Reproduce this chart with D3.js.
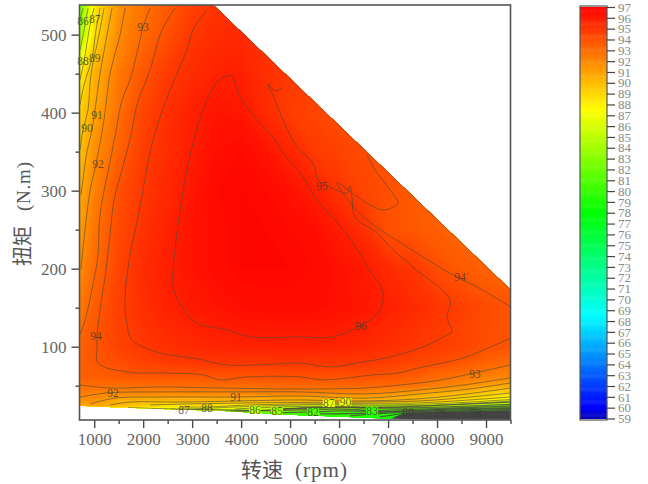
<!DOCTYPE html>
<html lang="zh">
<head>
<meta charset="utf-8">
<title>效率 MAP</title>
<script src="https://cdn.jsdelivr.net/npm/d3@7/dist/d3.min.js"></script>
<style>
  html, body { margin: 0; padding: 0; background: #fff; }
  svg { display: block; }
</style>
</head>
<body>
<svg id="map" width="648" height="484"></svg>
<script>
// Motor efficiency map: speed (rpm) against torque (N.m), efficiency in percent.
const speeds = [700, 1000, 1500, 2000, 2500, 3000, 3500, 4000, 4500, 5000, 5500, 6000, 6500, 7000, 7500, 8000, 8500, 9000, 9500];
const torques = [5, 10, 15, 20, 25, 30, 35, 40, 50, 60, 80, 100, 150, 200, 250, 300, 350, 400, 450, 500, 540];

// One row per torque, one column per speed.
const efficiency = [
  [77, 77, 78, 79, 80, 81, 80, 79, 79, 79, 79, 78.8, 78.7, 78.6, 76, 76, 76, 76, 76],
  [78, 78, 79, 80, 81, 82, 81, 80, 80, 80, 80, 79.5, 79.2, 79, 77, 76, 76, 76, 76],
  [80, 80, 81, 82, 83, 84, 83, 82, 81.5, 81, 80.5, 80, 79.8, 79.5, 78, 77, 77, 77, 77],
  [88, 88.5, 88, 87.5, 87, 87, 87, 86, 85.3, 84, 83.3, 83, 82.5, 82, 81.5, 81, 80.5, 80, 79.5],
  [90.8, 91, 90.4, 89.5, 88.9, 88.8, 88.6, 88.4, 88, 87.5, 86.5, 86, 86, 85.6, 85.6, 85.6, 85, 84, 83],
  [91.5, 91.6, 90.5, 90.2, 90, 90.1, 90.1, 90.2, 90.4, 90.5, 90.5, 90.3, 90.4, 90.4, 90.3, 89.6, 88.6, 87.8, 86.5],
  [92, 91.9, 91.2, 91, 91, 90.9, 91, 91, 91, 91.1, 91, 90.8, 91, 90.8, 90.4, 89.9, 89.3, 88.9, 87.9],
  [92.4, 92.2, 92, 92, 91.9, 92, 92, 92, 92.1, 92.2, 92.1, 92, 92, 91.6, 91.1, 90.4, 90.1, 89.5, 88.9],
  [92.9, 93, 92.9, 93, 93, 93, 93.1, 93, 93.1, 93.2, 93.2, 93.2, 93.2, 93.1, 92.9, 92.3, 91.8, 91.1, 90.6],
  [93.5, 93.5, 93.7, 93.8, 93.8, 93.7, 93.8, 93.9, 93.9, 94, 94, 93.9, 94, 93.8, 93.5, 93, 92.6, 92.2, 92],
  [93.4, 93.9, 94.2, 94.6, 94.9, 95, 95.05, 95, 95, 95.05, 95, 95, 94.95, 94.8, 94.5, 94.2, 93.9, 93.4, 93],
  [93.4, 93.9, 94.6, 95, 95.3, 95.5, 95.7, 95.8, 95.8, 95.8, 95.8, 95.75, 95.6, 95.3, 95.05, 94.8, 94.5, 94.2, 93.9],
  [92.5, 93.6, 94.7, 95.3, 95.8, 96.1, 96.3, 96.5, 96.6, 96.6, 96.6, 96.4, 96.2, 95.85, 95.5, 95.1, 94.7, 94.3, 94],
  [91.8, 93.1, 94.5, 95.4, 95.9, 96.3, 96.6, 96.8, 96.8, 96.8, 96.7, 96.4, 96.1, 95.5, 95.05, 94.2, 93.7, 93.4, 93],
  [91.2, 92.7, 94.3, 95.2, 95.8, 96.3, 96.6, 96.8, 96.8, 96.7, 96.5, 96, 95.3, 94, 93.8, 93.5, 93.2, 93, 92.8],
  [90.6, 92.2, 94.1, 95, 95.6, 96.2, 96.7, 96.8, 96.7, 96.4, 95.9, 95.1, 94.5, 94.1, 93.7, 93.4, 93.2, 93, 92.8],
  [89.8, 91.7, 93.4, 94.8, 95.4, 96, 96.5, 96.7, 96.3, 95.7, 94.9, 94.6, 94.3, 94, 93.7, 93.4, 93.2, 93, 92.8],
  [89.2, 90.9, 92.9, 94.5, 95.3, 95.9, 96.3, 96.2, 95.5, 94.8, 94.5, 94.2, 94, 93.8, 93.6, 93.4, 93.2, 93, 92.8],
  [88, 90.4, 92.5, 93.9, 94.9, 95.4, 95.8, 95.9, 95.3, 94.9, 94.7, 94.5, 94.3, 94, 93.8, 93.6, 93.4, 93.2, 93],
  [84, 88.8, 91.9, 93.1, 94.1, 95, 95.4, 95.5, 95.2, 95, 94.8, 94.6, 94.4, 94.2, 94, 93.8, 93.6, 93.4, 93.2],
  [82, 88.2, 91.5, 92.7, 93.7, 94.6, 95.1, 95.3, 95.2, 95, 94.8, 94.6, 94.4, 94.2, 94, 93.8, 93.6, 93.4, 93.2]
];

// Operating envelope of the machine, [speed, torque].
const envelope = [[700, 24.4], [1690, 21.8], [2551, 19.9], [3569, 18], [4992, 12.8], [5815, 10.9], [7040, 7.7], [8060, 6.4], [9500, 6.4], [9500, 173], [3430, 538], [700, 538]];
const fullLoadEdge = [[3430, 538], [9500, 173]];

// Traced iso-efficiency lines, [level, [[speed, torque], ...]].
const isolines = [
  [96, [[3834,448],[3977,420],[4324,390.7],[4651,368.9],[4855,348.4],[5263,317.6],[5549,288],[5917,262.5],[6284,233],[6590,201],[6897,169],[6795,143],[6366,125],[5876,112.5],[5202,112.5],[4181,112.5],[3712,121.4],[3058,131.7],[2711,160],[2609,179],[2650,224],[2752,275],[2895,326.6],[3058,371.4],[3262,410],[3426,431.7],[3610,444.5],[3834,448]]],
  [95, [[3303,531.7],[3017,506],[2895,480.4],[2548,429],[2201,365],[1895,266],[1731,217.6],[1629,160],[1670,128],[1772,108.6],[2344,92],[3017,85.5],[3712,76.6],[4385,76.6],[5202,79],[5815,74],[6366,79],[7040,86.8],[7713,99.6],[8203,115],[8305,119],[8203,138],[8265,160],[7509,202],[7040,228],[6774,246],[6325,266],[6264,292],[6223,306],[6162,297],[5815,305],[5570,314],[5467,335.5],[5141,356],[4855,390.7],[4692,416],[4549,437],[4692,428],[4835,431.7]]],
  [94, [[2650,534],[2385,506],[2140,454.8],[1874,410],[1752,371.4],[1568,326.6],[1405,288],[1323,243],[1241,198],[1119,147],[1057,113.7],[1057,99.6],[1078,79],[1670,67.6],[2344,66.3],[3222,63.8],[3569,57.4],[4120,61.2],[5202,61.2],[5672,57.4],[6693,63.8],[7203,66.3],[7713,74],[8530,85.5],[9500,111]]],
  [94, [[6570,345.8],[6733,326.6],[7040,301],[7203,284],[7101,279],[6897,275],[6631,281.7],[6325,294.5],[5958,310],[6264,281.7],[6570,262.5],[7387,227.9],[8408,189],[8816,176.6],[9500,151]]],
  [93, [[2140,534],[1997,510],[1935,493],[1731,442],[1568,416],[1466,384],[1364,349.6],[1119,269],[1078,217.6],[955,172.7],[812,134],[710,115]]],
  [93, [[710,50.9],[1323,47],[2344,48.4],[3569,47],[5202,45.8],[6529,47],[7244,50.9],[7958,56],[8673,65],[9500,76.6]]],
  [92, [[1629,534],[1527,499.6],[1323,449.6],[1200,390.7],[1037,334],[915,299.6],[812,249.6],[731,199.6]]],
  [92, [[710,35.5],[1262,40.7],[2344,42],[3712,42],[5202,42],[6529,39.4],[7652,44.5],[8673,52],[9500,60]]],
  [91, [[1364,534],[1262,499.6],[1119,449.6],[1017,403.5],[955,378],[853,349.6],[731,294.5]]],
  [91, [[915,26.6],[1425,34],[2344,35.5],[3895,35.5],[5202,36.8],[6529,34],[7652,39.4],[8673,45.8],[9500,53.5]]],
  [90, [[1200,534],[1098,499.6],[935,449.6],[873,403.5],[772,378],[711,352]]],
  [90, [[1323,25.3],[1731,29],[2752,29],[3977,30.4],[5202,31.7],[6060,30.4],[7244,31.7],[8265,36.8],[9500,47]]],
  [89, [[1119,534],[1037,506],[955,470],[792,435.5],[711,410]]],
  [89, [[2140,25.3],[2956,26.6],[4181,27.9],[5202,28.5],[6427,29],[7652,30.4],[8673,35.5],[9500,40.7]]],
  [88, [[996,534],[915,512],[792,466],[711,442]]],
  [88, [[2752,22.7],[3303,22.7],[4181,25.3],[5202,26.6],[6427,27.2],[7652,27.9],[8673,31.7],[9500,35.5]]],
  [87, [[874,534],[833,519],[711,480]]],
  [87, [[2551,20],[2834,20],[4181,23.4],[5202,25.3],[5937,26],[6835,25.3],[7856,26.6],[8673,29],[9500,32.3]]],
  [86, [[772,534],[711,519]]],
  [86, [[3875,20],[4283,21.4],[5202,23.4],[6835,24],[7856,24.6],[9500,30.4]]],
  [85, [[4732,19.7],[5815,22.7],[6835,22],[8673,26.6],[9500,29]]],
  [84, [[1690,21.4],[2551,20],[3569,18.9],[4385,18.3],[5202,20.8],[6019,22],[7244,21.4],[8469,23.4],[9500,26]]],
  [83, [[3773,17],[5202,18.9],[6019,20],[6672,18.3],[7652,20],[8673,22],[9500,24]]],
  [82, [[4590,15],[5467,16.3],[6019,17.6],[6835,17],[7856,18.9],[8673,20.8],[9500,22]]],
  [81, [[5610,13.8],[6631,15],[7448,17.6],[8673,19.7],[9500,20.8]]],
  [80, [[6223,11.2],[7407,16.3],[8673,18.3],[9500,19.7]]],
  [79, [[6835,9.9],[7550,15.7],[8673,17],[9500,18.3]]]
];

// Contour labels: text, speed, torque and the efficiency tint behind it, if any.
const contourLabels = [
  ["86", 770, 517.6, null], ["87", 1010, 520, null], ["88", 770, 466, null], ["89", 1010, 470, null],
  ["93", 1997, 510, null], ["91", 1057, 397, null], ["90", 853, 380, null], ["92", 1078, 334, null],
  ["94", 1037, 113.7, null], ["95", 5651, 306, null], ["96", 6447, 126.6, null], ["94", 8469, 189, null],
  ["93", 8775, 65, null], ["92", 1384, 40.7, null], ["91", 3895, 35.5, null], ["87", 5790, 27.8, 87],
  ["90", 6130, 29, 87], ["87", 2834, 18.9, null], ["88", 3303, 21.4, null], ["86", 4283, 18.9, 85],
  ["85", 4732, 17.6, 84], ["82", 5467, 16.3, 81], ["83", 6672, 17.6, 80], ["80", 7407, 16.3, null],
  ["79", 8060, 15, null], ["78", 8795, 15, null]
];

const speedTicks = [1000, 2000, 3000, 4000, 5000, 6000, 7000, 8000, 9000];
const speedMinorTicks = [1500, 2500, 3500, 4500, 5500, 6500, 7500, 8500, 9500];
const torqueTicks = [100, 200, 300, 400, 500];
const torqueMinorTicks = [50, 150, 250, 350, 450];
const colorbarTicks = d3.range(59, 98);

// Rainbow ramp used by both the map and the colour bar.
const colorStops = [59, 60, 68.5, 78, 87.5, 97];
const colorValues = ["#0000b4", "#0000ff", "#00ffff", "#00ff00", "#ffff00", "#ff0000"];
const belowRangeColor = "#434343";
const belowRangeLimit = 78.5;

const svg = d3.select("#map");
const serif = "'Liberation Serif', 'DejaVu Serif', serif";
const cjk = "'Noto Sans CJK SC', sans-serif";

const x = d3.scaleLinear().domain([700, 9500]).range([79.5, 510.5]);
const y = d3.scaleLinear().domain([6, 538]).range([420, 5]);
const color = d3.scaleLinear().domain(colorStops).range(colorValues).clamp(true);

// Grid indices returned by d3.contours sit half a cell from the sample centres.
const gridX = d3.scaleLinear().domain(speeds.map((_, i) => i + 0.5)).range(speeds);
const gridY = d3.scaleLinear().domain(torques.map((_, i) => i + 0.5)).range(torques);
const toScreen = d3.geoTransform({
  point(px, py) { this.stream.point(x(gridX(px)), y(gridY(py))); }
});
const gridPath = d3.geoPath(toScreen);

svg.append("clipPath").attr("id", "envelope-clip")
  .append("path").attr("d", d3.line().x(d => x(d[0])).y(d => y(d[1])).curve(d3.curveLinearClosed)(envelope));

const plot = svg.append("g").attr("clip-path", "url(#envelope-clip)");

// Filled field: closely spaced efficiency bands painted from low to high.
plot.append("rect")
  .attr("x", x.range()[0]).attr("y", y.range()[1])
  .attr("width", x.range()[1] - x.range()[0]).attr("height", y.range()[0] - y.range()[1])
  .attr("fill", belowRangeColor);

const bands = d3.contours()
  .size([speeds.length, torques.length])
  .thresholds(d3.range(belowRangeLimit, 97.01, 0.1))(efficiency.flat());

plot.selectAll("path.band").data(bands).join("path")
  .attr("class", "band")
  .attr("d", gridPath)
  .attr("fill", d => color(d.value));

// Iso-efficiency lines; the low levels bunch up along the bottom edge.
const lineGen = d3.line().x(d => x(d[0])).y(d => y(d[1])).curve(d3.curveCatmullRom.alpha(0.5));
plot.selectAll("path.iso").data(isolines).join("path")
  .attr("class", "iso")
  .attr("d", d => lineGen(d[1]))
  .attr("fill", "none")
  .attr("stroke", "#4a4a3c")
  .attr("stroke-opacity", d => d[0] <= 85 ? 0.8 : 0.6)
  .attr("stroke-width", d => d[0] <= 85 ? 1.3 : 1);

svg.append("path")
  .attr("d", d3.line().x(d => x(d[0])).y(d => y(d[1]))(fullLoadEdge))
  .attr("fill", "none").attr("stroke", "#a8481a").attr("stroke-width", 1).attr("stroke-opacity", 0.7);

// Contour labels, some with a tinted patch behind them.
const labelGroup = svg.append("g");
labelGroup.selectAll("rect").data(contourLabels.filter(d => d[3] !== null)).join("rect")
  .attr("x", d => x(d[1]) - 6).attr("y", d => y(d[2]) - 4)
  .attr("width", 12).attr("height", 8)
  .attr("fill", d => color(d[3]));
labelGroup.selectAll("text").data(contourLabels).join("text")
  .attr("x", d => x(d[1])).attr("y", d => y(d[2]))
  .attr("dy", "0.35em")
  .attr("text-anchor", "middle")
  .attr("font-family", serif).attr("font-size", 11.5)
  .attr("fill", "#3a3a30").attr("fill-opacity", 0.8)
  .text(d => d[0]);

// Axes with labelled major ticks and unlabelled minor ticks.
function styleAxis(g, size) {
  g.select(".domain").remove();
  g.selectAll("line").attr("stroke", "#4a4a4a").attr("stroke-width", 1.4);
  g.selectAll("text").attr("font-family", serif).attr("font-size", size).attr("fill", "#666");
}
const bottom = svg.append("g").attr("transform", "translate(0,420)");
bottom.append("g").call(d3.axisBottom(x).tickValues(speedTicks).tickSize(8).tickPadding(5).tickFormat(d3.format("d"))).call(styleAxis, 17);
bottom.append("g").call(d3.axisBottom(x).tickValues(speedMinorTicks).tickSize(4).tickFormat("")).call(styleAxis, 17);

const left = svg.append("g").attr("transform", "translate(79.5,0)");
left.append("g").call(d3.axisLeft(y).tickValues(torqueTicks).tickSize(8).tickPadding(5).tickFormat(d3.format("d"))).call(styleAxis, 17);
left.append("g").call(d3.axisLeft(y).tickValues(torqueMinorTicks).tickSize(4).tickFormat("")).call(styleAxis, 17);

svg.append("rect")
  .attr("x", x.range()[0]).attr("y", y.range()[1])
  .attr("width", x.range()[1] - x.range()[0]).attr("height", y.range()[0] - y.range()[1])
  .attr("fill", "none").attr("stroke", "#555").attr("stroke-width", 1.6);

// Axis titles; the Latin parts are spaced out to half-width cells.
const xTitle = svg.append("g").attr("transform", "translate(241,477)").attr("fill", "#555");
xTitle.append("text").attr("font-family", cjk).attr("font-size", 21).text("转速");
xTitle.append("text").attr("x", 54).attr("font-family", serif).attr("font-size", 21)
  .attr("textLength", 52).attr("lengthAdjust", "spacing").text("(rpm)");

const yTitle = svg.append("g").attr("transform", "translate(30,266) rotate(-90)").attr("fill", "#555");
yTitle.append("text").attr("font-family", cjk).attr("font-size", 20).text("扭矩");
yTitle.append("text").attr("x", 55).attr("font-family", serif).attr("font-size", 19)
  .attr("textLength", 49).attr("lengthAdjust", "spacing").text("(N.m)");

// Colour bar.
const barY = d3.scaleLinear().domain([59, 97]).range([418.5, 7]);
const barStep = 0.1;
const bar = svg.append("g");
bar.selectAll("rect").data(d3.range(59, 97, barStep)).join("rect")
  .attr("x", 580).attr("width", 27)
  .attr("y", d => barY(d + barStep))
  .attr("height", d => barY(d) - barY(d + barStep) + 0.5)
  .attr("fill", d => color(d));
svg.append("rect").attr("x", 580).attr("y", 6).attr("width", 27).attr("height", 414)
  .attr("fill", "none").attr("stroke", "#555").attr("stroke-width", 1.2);

const barAxis = svg.append("g").attr("transform", "translate(607,0)")
  .call(d3.axisRight(barY).tickValues(colorbarTicks).tickSize(8).tickPadding(3).tickFormat(d3.format("d")));
barAxis.select(".domain").remove();
barAxis.selectAll("line").attr("stroke", "#444").attr("stroke-width", 1.2);
barAxis.selectAll("text").attr("font-family", serif).attr("font-size", 13).attr("fill", "#8a8a8a");
</script>
</body>
</html>
